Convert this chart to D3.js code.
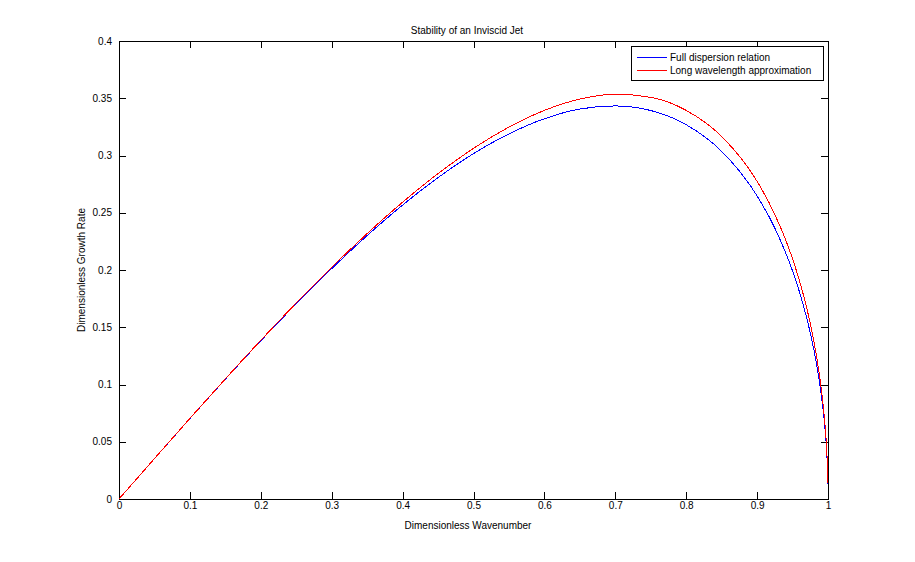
<!DOCTYPE html>
<html>
<head>
<meta charset="utf-8">
<script src="https://d3js.org/d3.v7.min.js"></script>
<style>
  html, body { margin: 0; padding: 0; background: #ffffff; }
  text { font-family: "Liberation Sans", Arial, sans-serif; fill: #000; }
</style>
</head>
<body>
<svg id="chart" width="915" height="562"></svg>
<script>
// ---- data ----
const wavenumber = [0, 0.05, 0.1, 0.15, 0.2, 0.25, 0.3, 0.35, 0.4, 0.45, 0.5, 0.55, 0.6, 0.65, 0.7, 0.75, 0.8, 0.85, 0.9, 0.925, 0.95, 0.96, 0.97, 0.975, 0.98, 0.985, 0.99, 0.995, 0.999, 0.9995, 0.9998];
const fullDispersion = [0, 0.0353, 0.0703, 0.1047, 0.1382, 0.1705, 0.2012, 0.2301, 0.2567, 0.2807, 0.3016, 0.3189, 0.3321, 0.3406, 0.3433, 0.3393, 0.3269, 0.3036, 0.2647, 0.2366, 0.1992, 0.1803, 0.1580, 0.1451, 0.1306, 0.1137, 0.0934, 0.0664, 0.0299, 0.0211, 0.0134];
const longWavelength = [0, 0.0353, 0.0704, 0.1049, 0.1386, 0.1712, 0.2024, 0.2318, 0.2592, 0.2842, 0.3062, 0.3248, 0.3394, 0.3493, 0.3535, 0.3508, 0.3394, 0.3166, 0.2774, 0.2485, 0.2098, 0.1901, 0.1668, 0.1532, 0.1379, 0.1202, 0.0988, 0.0703, 0.0316, 0.0223, 0.0141];
const xTicks = [0, 0.1, 0.2, 0.3, 0.4, 0.5, 0.6, 0.7, 0.8, 0.9, 1];
const yTicks = [0, 0.05, 0.1, 0.15, 0.2, 0.25, 0.3, 0.35, 0.4];
const seriesNames = ["Full dispersion relation", "Long wavelength approximation"];
const seriesColors = ["#0000ff", "#ff0000"];
const titleText = "Stability of an Inviscid Jet";
const xLabel = "Dimensionless Wavenumber";
const yLabel = "Dimensionless Growth Rate";

// ---- layout ----
const plotL = 119, plotR = 828, plotT = 41, plotB = 499;
const svg = d3.select("#chart");
svg.append("rect").attr("width", 915).attr("height", 562).attr("fill", "#fff");

const x = d3.scaleLinear().domain([0, 1]).range([plotL, plotR]);
const y = d3.scaleLinear().domain([0, 0.4]).range([plotB, plotT]);

const fmt = d => String(+d.toFixed(2));
const tickLen = 7;

// axes (MATLAB box style: inward ticks on all sides)
const gx = svg.append("g").attr("transform", `translate(0,${plotB})`)
  .call(d3.axisBottom(x).tickValues(xTicks).tickFormat(fmt).tickSizeInner(-tickLen).tickSizeOuter(0).tickPadding(3));
const gxTop = svg.append("g").attr("transform", `translate(0,${plotT})`)
  .call(d3.axisTop(x).tickValues(xTicks).tickFormat("").tickSizeInner(-tickLen).tickSizeOuter(0));
const gy = svg.append("g").attr("transform", `translate(${plotL},0)`)
  .call(d3.axisLeft(y).tickValues(yTicks).tickFormat(fmt).tickSizeInner(-tickLen).tickSizeOuter(0).tickPadding(7));
const gyRight = svg.append("g").attr("transform", `translate(${plotR},0)`)
  .call(d3.axisRight(y).tickValues(yTicks).tickFormat("").tickSizeInner(-tickLen).tickSizeOuter(0));

[gx, gxTop, gy, gyRight].forEach(g => {
  g.selectAll("path.domain").remove();
  g.selectAll("line").attr("stroke", "#000").attr("shape-rendering", "crispEdges");
  g.selectAll("text").attr("font-size", 10).attr("font-family", "Liberation Sans, Arial, sans-serif").attr("fill", "#000");
});

// box
svg.append("rect")
  .attr("x", plotL).attr("y", plotT).attr("width", plotR - plotL).attr("height", plotB - plotT)
  .attr("fill", "none").attr("stroke", "#000").attr("stroke-width", 1)
  .attr("shape-rendering", "crispEdges");

// lines
const series = [fullDispersion, longWavelength];
const line = d3.line()
  .x((d, i) => x(wavenumber[i]))
  .y(d => y(d))
  .curve(d3.curveMonotoneX);

series.forEach((s, i) => {
  svg.append("path")
    .datum(s)
    .attr("d", line)
    .attr("fill", "none")
    .attr("stroke", seriesColors[i])
    .attr("stroke-width", 1)
    .attr("shape-rendering", "crispEdges");
});

// title and labels
svg.append("text").attr("x", 467).attr("y", 34).attr("text-anchor", "middle")
  .attr("font-size", 10).text(titleText);
svg.append("text").attr("x", 468).attr("y", 529).attr("text-anchor", "middle")
  .attr("font-size", 10).text(xLabel);
svg.append("text").attr("transform", `translate(85,${(plotT + plotB) / 2}) rotate(-90)`)
  .attr("text-anchor", "middle").attr("font-size", 10).text(yLabel);

// legend
const lg = svg.append("g");
lg.append("rect").attr("x", 631.5).attr("y", 46.5).attr("width", 192).attr("height", 34)
  .attr("fill", "#fff").attr("stroke", "#000");
seriesNames.forEach((name, i) => {
  const yy = 57.5 + i * 13;
  lg.append("line").attr("x1", 637).attr("x2", 667).attr("y1", yy).attr("y2", yy)
    .attr("stroke", seriesColors[i]).attr("stroke-width", 1);
  lg.append("text").attr("x", 670).attr("y", yy + 3.5).attr("font-size", 10).text(name);
});
</script>
</body>
</html>
